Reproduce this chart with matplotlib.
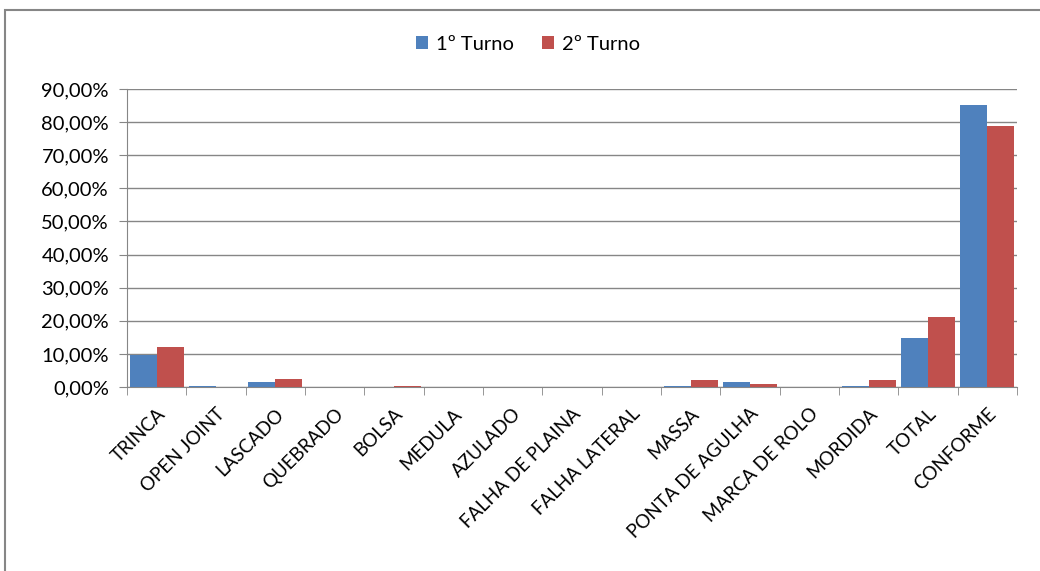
import matplotlib.pyplot as plt
import numpy as np
from matplotlib.patches import Rectangle
from matplotlib.ticker import FuncFormatter, MultipleLocator

plt.rcParams['font.family'] = ['Lato', 'DejaVu Sans']

# Defeitos por turno (%)
categorias = ["TRINCA", "OPEN JOINT", "LASCADO", "QUEBRADO", "BOLSA", "MEDULA",
              "AZULADO", "FALHA DE PLAINA", "FALHA LATERAL", "MASSA",
              "PONTA DE AGULHA", "MARCA DE ROLO", "MORDIDA", "TOTAL", "CONFORME"]
turno1 = [9.7, 0.3, 1.4, 0.0, 0.0, 0.0, 0.0, 0.0, 0.0, 0.3, 1.4, 0.0, 0.3, 14.8, 85.2]
turno2 = [12.1, 0.0, 2.3, 0.0, 0.3, 0.0, 0.0, 0.0, 0.0, 2.1, 0.8, 0.0, 2.1, 21.1, 78.9]

azul = "#4F81BD"
vermelho = "#C0504D"
cinza = "#868686"

fig = plt.figure(figsize=(10.4, 5.71), dpi=100)
ax = fig.add_axes([0.1221, 0.3222, 0.8558, 0.5219])

# moldura do gráfico
fig.patches.append(Rectangle((5 / 1040, -0.05), 1.1, 1 - 10 / 571 + 0.05,
                             transform=fig.transFigure, fill=False,
                             edgecolor=cinza, linewidth=1.5))

x = np.arange(len(categorias))
w = 0.455
ax.bar(x - w / 2, turno1, w, color=azul, label="1º Turno", zorder=3)
ax.bar(x + w / 2, turno2, w, color=vermelho, label="2º Turno", zorder=3)

ax.set_xlim(-0.5, len(categorias) - 0.5)
ax.set_ylim(0, 90)
ax.yaxis.set_major_locator(MultipleLocator(10))
ax.yaxis.set_major_formatter(FuncFormatter(lambda v, p: f"{v:.2f}%".replace(".", ",")))
ax.grid(axis="y", color=cinza, linewidth=1, zorder=0)

ax.set_xticks(x)
ax.set_xticklabels(categorias, rotation=45, ha="right", rotation_mode="anchor",
                   fontsize=13.5)
ax.tick_params(axis="x", length=0, pad=13)
ax.set_xticks(np.arange(len(categorias) + 1) - 0.5, minor=True)
ax.tick_params(axis="x", which="minor", length=6, color=cinza)
ax.tick_params(axis="y", labelsize=14.5, length=6, color=cinza, pad=7)

for s in ["top", "right"]:
    ax.spines[s].set_visible(False)
for s in ["left", "bottom"]:
    ax.spines[s].set_color(cinza)

fig.legend(loc="center", bbox_to_anchor=(0.508, 1 - 44 / 571), ncol=2,
           frameon=False, fontsize=14.5, handlelength=0.6, handleheight=0.6,
           handletextpad=0.4, columnspacing=1.4)

fig.savefig("out.png", dpi=100)
